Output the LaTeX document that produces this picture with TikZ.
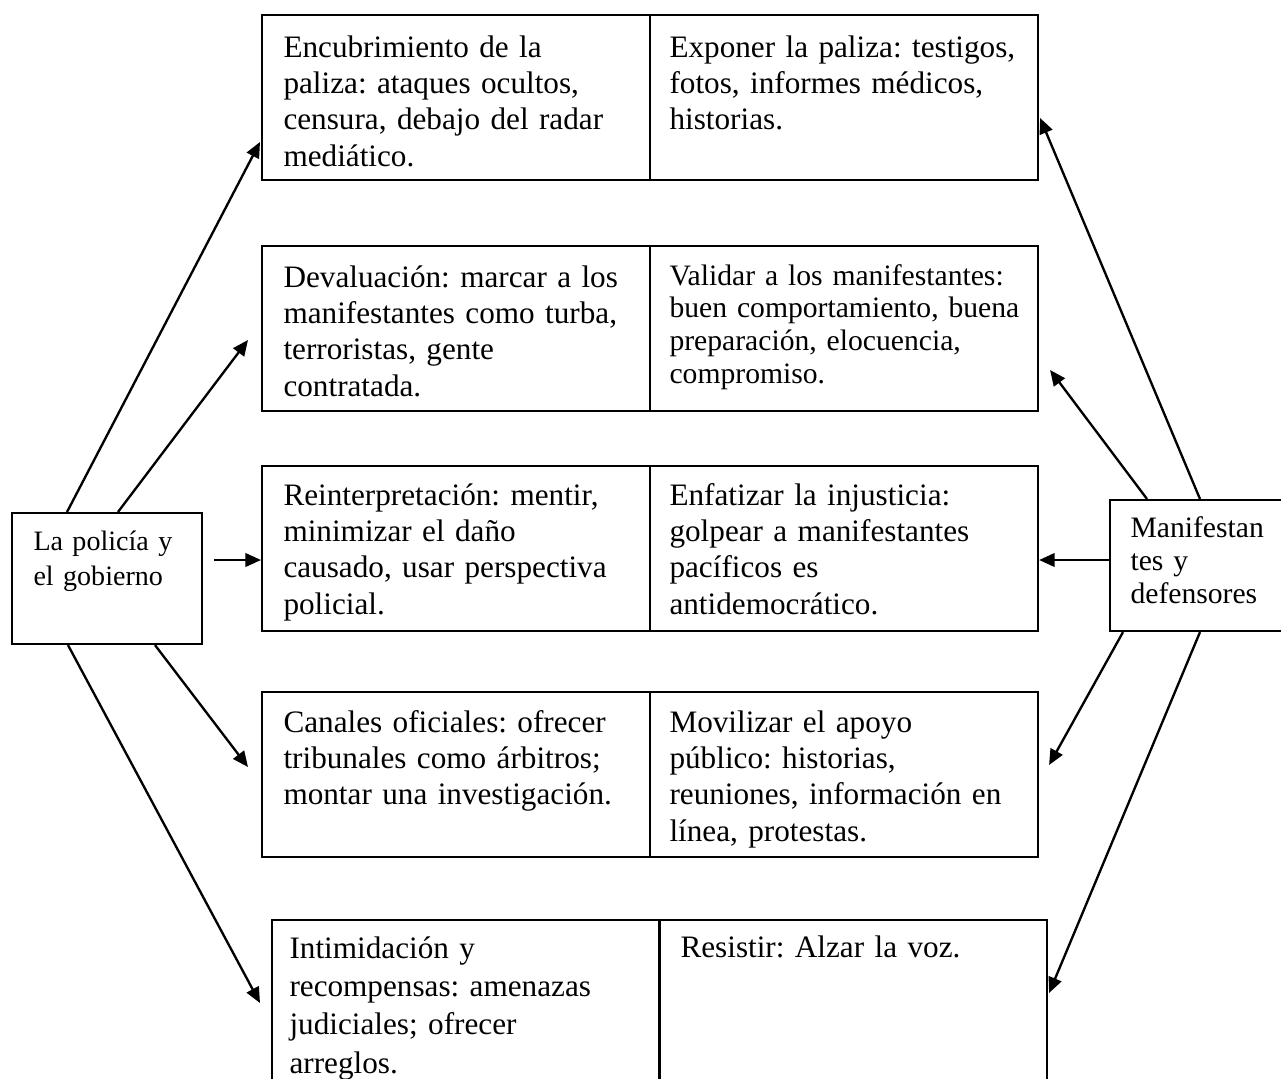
\documentclass[tikz,border=0pt]{standalone}
\usepackage{fontspec}
\setmainfont{Liberation Serif}
\usetikzlibrary{arrows.meta,calc,positioning}
\newdimen\pxu \pxu=0.3846pt
\frenchspacing

\begin{document}
\begin{tikzpicture}[x=0.3846pt,y=-0.3846pt]
\tikzset{cell/.style={draw=black, thick, anchor=north west, inner sep=0pt, minimum width=388\pxu, minimum height=165\pxu}}
\tikzset{side/.style={draw=black, thick, anchor=north west, inner sep=0pt, minimum width=190\pxu, minimum height=131\pxu}}
\tikzset{txt/.style={anchor=base west, align=left, inner sep=0pt, text width=370\pxu, font=\fontsize{12}{14}\selectfont}}
\tikzset{smalltxt/.style={txt, font=\fontsize{11.4}{12.6}\selectfont}}
\tikzset{arr/.style={line width=0.9pt, -{Triangle[length=6pt,width=5.2pt]}}}
\useasboundingbox (0,0) rectangle (1281,1078);

% side boxes
\node[side] (pol) at (11,512) {};
\node[txt, font=\fontsize{10.8}{13.5}\selectfont] (poltxt) at ($(pol.north west)+(22,38)$) {La policía y\\ el gobierno};
\node[side] (man) at (1109,499) {};
\node[txt, font=\fontsize{11.4}{12.7}\selectfont] (mantxt) at ($(man.north west)+(21,38)$) {Manifestan\\ tes y\\ defensores};

% rows
\node[cell] (enc) at (261,14) {};
\node[cell] (expo) at (649,14) {};
\node[txt] (enctxt) at ($(enc.north west)+(22,43)$) {Encubrimiento de la\\ paliza: ataques ocultos,\\ censura, debajo del radar\\ mediático.};
\node[txt] (expotxt) at ($(expo.north west)+(20,43)$) {Exponer la paliza: testigos,\\ fotos, informes médicos,\\ historias.};

\node[cell] (dev) at (261,245) {};
\node[cell] (val) at (649,245) {};
\node[txt] (devtxt) at ($(dev.north west)+(22,42)$) {Devaluación: marcar a los\\ manifestantes como turba,\\ terroristas, gente\\ contratada.};
\node[smalltxt] (valtxt) at ($(val.north west)+(20,40)$) {Validar a los manifestantes:\\ buen comportamiento, buena\\ preparación, elocuencia,\\ compromiso.};

\node[cell] (rei) at (261,465) {};
\node[cell] (enf) at (649,465) {};
\node[txt] (reitxt) at ($(rei.north west)+(22,40)$) {Reinterpretación: mentir,\\ minimizar el daño\\ causado, usar perspectiva\\ policial.};
\node[txt] (enftxt) at ($(enf.north west)+(20,40)$) {Enfatizar la injusticia:\\ golpear a manifestantes\\ pacíficos es\\ antidemocrático.};

\node[cell] (can) at (261,691) {};
\node[cell] (mov) at (649,691) {};
\node[txt] (cantxt) at ($(can.north west)+(22,41)$) {Canales oficiales: ofrecer\\ tribunales como árbitros;\\ montar una investigación.};
\node[txt] (movtxt) at ($(mov.north west)+(20,41)$) {Movilizar el apoyo\\ público: historias,\\ reuniones, información en\\ línea, protestas.};

\node[cell] (inti) at (271,919) {};
\node[cell] (res) at (658,919) {};
\node[txt, font=\fontsize{12}{14.8}\selectfont] (intitxt) at ($(inti.north west)+(18,39)$) {Intimidación y\\ recompensas: amenazas\\ judiciales; ofrecer\\ arreglos.};
\node[txt] (restxt) at ($(res.north west)+(22,38)$) {Resistir: Alzar la voz.};

% arrows
\draw[arr] ($(pol.north west)+(56,0)$) -- ($(enc.north west)+(-1,128)$);
\draw[arr] ($(pol.north west)+(107,0)$) -- ($(dev.north west)+(-13,95)$);
\draw[arr] ($(pol.north east)+(11,48)$) -- ($(rei.north west)+(0,95)$);
\draw[arr] ($(pol.south west)+(144,0)$) -- ($(can.north west)+(-13,76)$);
\draw[arr] ($(pol.south west)+(57,0)$) -- ($(inti.north west)+(-11,84)$);

\draw[arr] ($(man.north west)+(91,0)$) -- ($(expo.north east)+(1,104)$);
\draw[arr] ($(man.north west)+(38,0)$) -- ($(val.north east)+(11,125)$);
\draw[arr] ($(man.north west)+(0,61)$) -- ($(enf.north east)+(0,95)$);
\draw[arr] ($(man.south west)+(14,0)$) -- ($(mov.north east)+(10,74)$);
\draw[arr] ($(man.south west)+(91,0)$) -- ($(res.north east)+(1,74)$);
\end{tikzpicture}
\end{document}
